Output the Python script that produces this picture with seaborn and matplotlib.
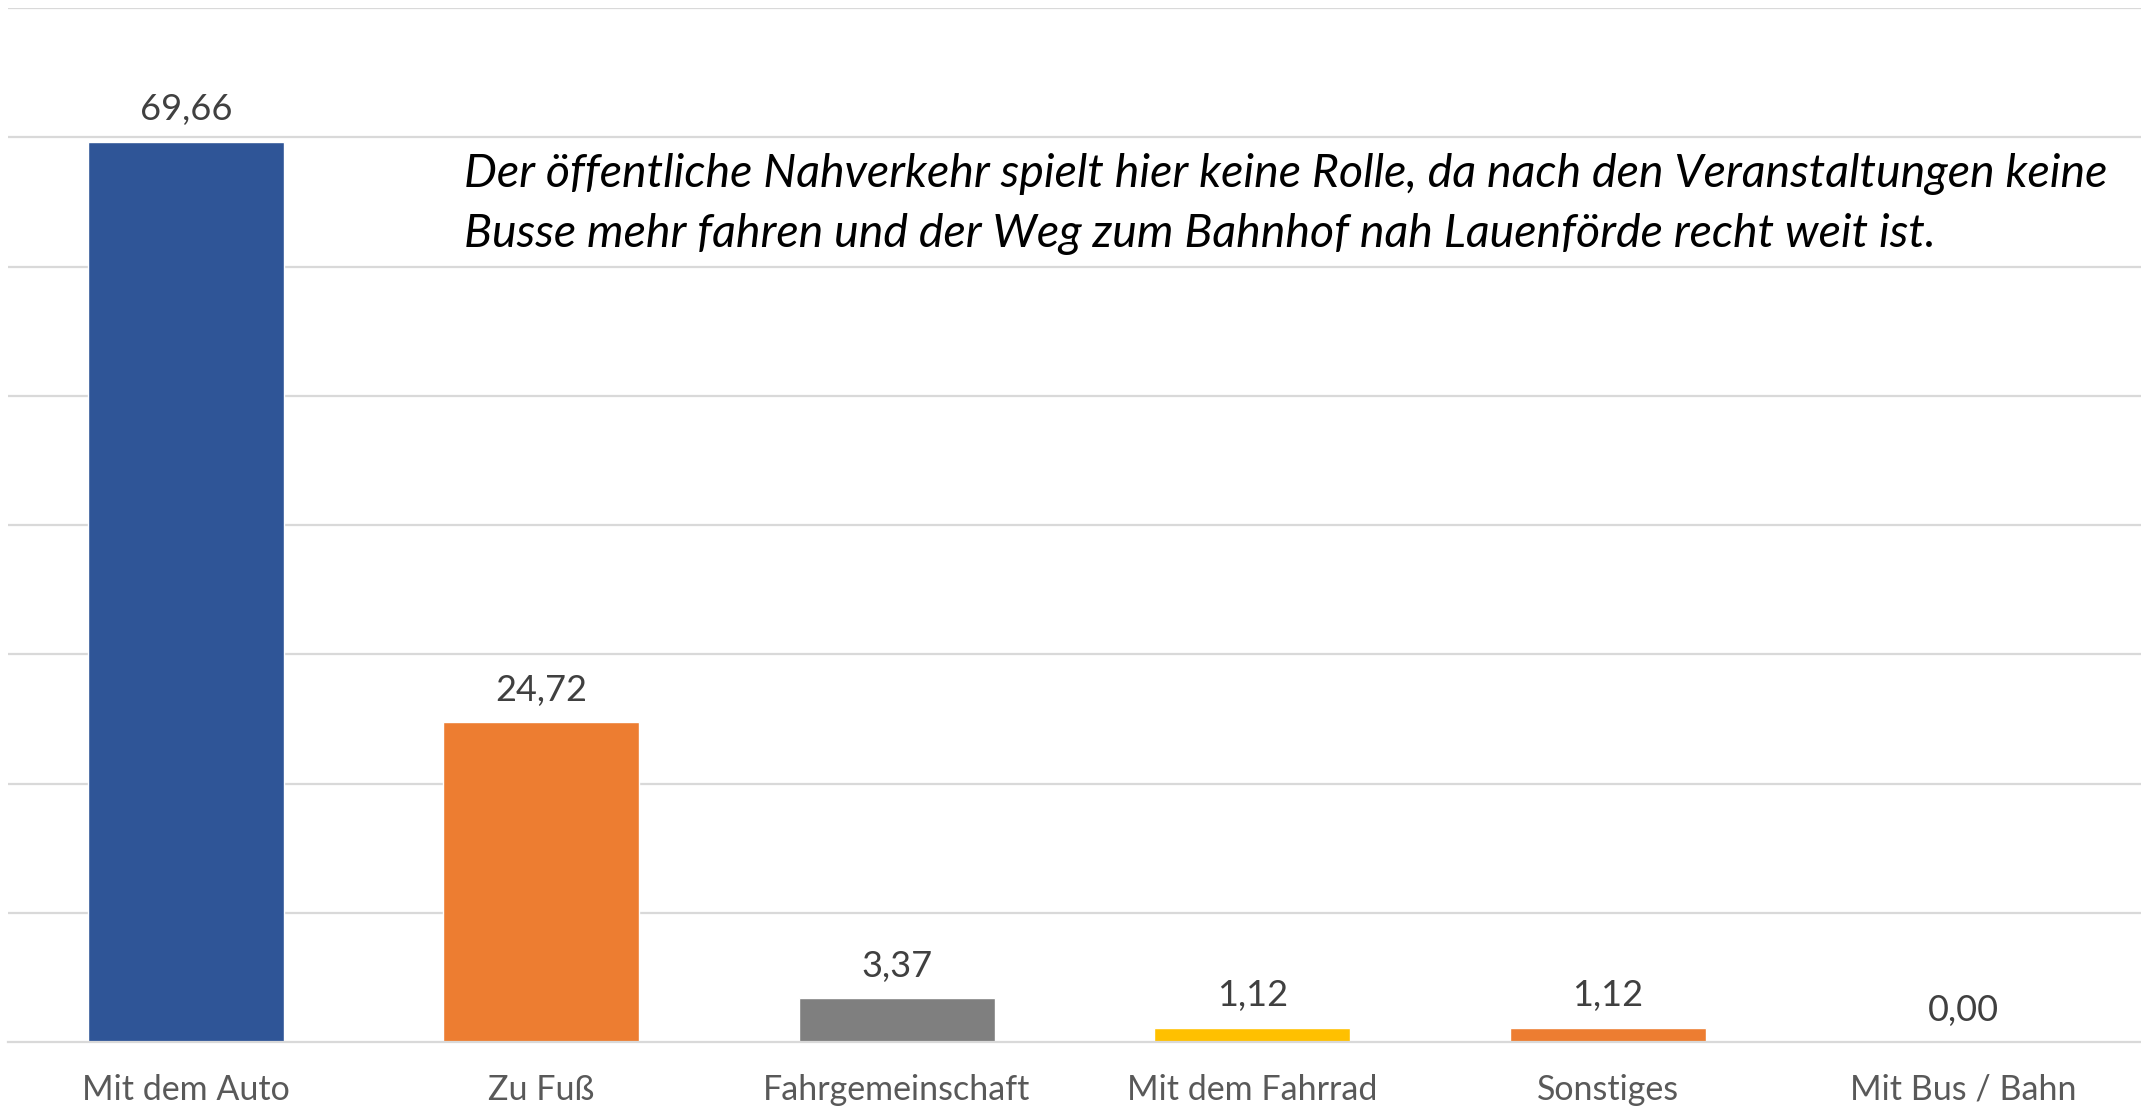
import seaborn as sns
import matplotlib.pyplot as plt
import pandas as pd

# DATA
kategorien = ['Mit dem Auto', 'Zu Fuß', 'Fahrgemeinschaft', 'Mit dem Fahrrad', 'Sonstiges', 'Mit Bus / Bahn']
anteile = [69.66, 24.72, 3.37, 1.12, 1.12, 0.00]
farben = ['#2F5597', '#ED7D31', '#7F7F7F', '#FFC000', '#ED7D31', '#A5A5A5']
hinweis_zeile1 = 'Der öffentliche Nahverkehr spielt hier keine Rolle, da nach den Veranstaltungen keine'
hinweis_zeile2 = 'Busse mehr fahren und der Weg zum Bahnhof nah Lauenförde recht weit ist.'

df = pd.DataFrame({'kategorie': kategorien, 'anteil': anteile})

sns.set_theme(style='white')
plt.rcParams['font.family'] = ['Lato', 'DejaVu Sans']

fig = plt.figure(figsize=(21.41, 11.09), dpi=100)
ax = fig.add_axes([8 / 2141, 67 / 1109, 1 - 8 / 2141, (1042 - 8) / 1109])

sns.barplot(data=df, x='kategorie', y='anteil', hue='kategorie', palette=farben,
            width=0.55, legend=False, saturation=1, ax=ax)

ax.set_ylim(0, 80)
ax.set_yticks(range(10, 81, 10))
ax.yaxis.grid(True, color='#D9D9D9', linewidth=1.6)
ax.set_axisbelow(True)
ax.set_yticklabels([])
ax.set_xlabel('')
ax.set_ylabel('')
for s in ['top', 'right', 'left']:
    ax.spines[s].set_visible(False)
ax.spines['bottom'].set_color('#D9D9D9')
ax.spines['bottom'].set_linewidth(1.6)
ax.tick_params(axis='x', length=0, pad=23, labelsize=24.5, labelcolor='#595959')
ax.tick_params(axis='y', length=0)

# WERTE UEBER DEN BALKEN
for cont in ax.containers:
    ax.bar_label(cont, labels=[f'{v:.2f}'.replace('.', ',') for v in cont.datavalues],
                 padding=11, fontsize=26, color='#404040')

# HINWEISTEXT
fig.text(464 / 2141, 1 - 174 / 1109, hinweis_zeile1, fontsize=33.5, style='italic',
         color='black', va='center', ha='left')
fig.text(464 / 2141, 1 - 234 / 1109, hinweis_zeile2, fontsize=33.5, style='italic',
         color='black', va='center', ha='left')

fig.savefig('out.png', dpi=100)
